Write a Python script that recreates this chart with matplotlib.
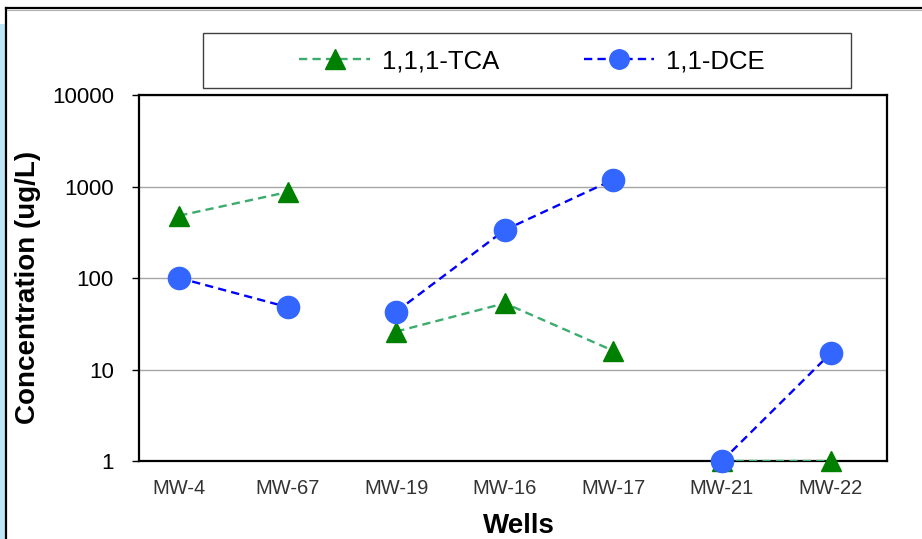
import numpy as np
import matplotlib.pyplot as plt
from matplotlib.lines import Line2D
from matplotlib.patches import Rectangle

plt.rcParams['font.family'] = ['Liberation Sans', 'DejaVu Sans']

wells = ["MW-4", "MW-67", "MW-19", "MW-16", "MW-17", "MW-21", "MW-22"]
tca = [480, 870, 26, 53, 16, 1, 1]
dce = [100, 48, 43, 335, 1190, 1, 15]
# wells are sampled in three separate transects; lines only join wells of one transect
transect = [0, 0, 1, 1, 1, 2, 2]
yticks = [1, 10, 100, 1000, 10000]
ytick_labels = ["1", "10", "100", "1000", "10000"]

W, H = 922, 539
fig = plt.figure(figsize=(W / 100, H / 100), dpi=100)
fig.patch.set_facecolor("white")


def fx(px):
    return px / W


def fy(py):
    return 1 - py / H


# outer frame and side strip
fig.add_artist(Rectangle((0, 0), fx(5.5), fy(24), transform=fig.transFigure,
                         facecolor="#bfe6f5", edgecolor="none", zorder=0))
fig.add_artist(Line2D([fx(5.5), fx(5.5)], [0, fy(8)], transform=fig.transFigure,
                      color="black", lw=1.6))
fig.add_artist(Line2D([fx(5.5), 1], [fy(8), fy(8)], transform=fig.transFigure,
                      color="black", lw=1.6))
fig.add_artist(Line2D([fx(7), 1], [fy(10), fy(10)], transform=fig.transFigure,
                      color="#b0b0b0", lw=0.8))

left, right, top, bottom = 139, 887, 95, 461
ax = fig.add_axes([fx(left), fy(bottom), fx(right - left), (bottom - top) / H])

x = np.arange(len(wells))
tca_a = np.array(tca, dtype=float)
dce_a = np.array(dce, dtype=float)
grp = np.array(transect)

tca_line = "#3cab6e"
tca_mark = "#008000"
dce_line = "#0000ff"
dce_mark = "#3366ff"
dash = (0, (3.5, 2.2))

for g in np.unique(grp):
    m = grp == g
    ax.plot(x[m], tca_a[m], color=tca_line, lw=1.7, ls=dash, zorder=3)
    ax.plot(x[m], dce_a[m], color=dce_line, lw=1.7, ls=dash, zorder=3)

ax.plot(x, tca_a, ls="none", marker="^", ms=15, color=tca_mark, mec=tca_mark,
        zorder=4, clip_on=False)
ax.plot(x, dce_a, ls="none", marker="o", ms=16, color=dce_mark, mec=dce_mark,
        zorder=5, clip_on=False)

ax.set_yscale("log")
ax.set_ylim(1, 10000)
ax.set_xlim(-0.37, 6.52)
ax.set_yticks(yticks)
ax.set_yticklabels(ytick_labels, fontsize=16)
ax.yaxis.set_minor_locator(plt.NullLocator())
ax.grid(axis="y", which="major", color="#a6a6a6", lw=1.0)
ax.set_axisbelow(True)

ax.set_xticks(x)
ax.set_xticklabels(wells, fontsize=14.5, color="#333333")
ax.tick_params(axis="x", length=0, pad=13)
ax.tick_params(axis="y", length=5, width=1.0, direction="out", pad=13)

for s in ax.spines.values():
    s.set_linewidth(1.6)
    s.set_color("black")

ax.set_xlabel("Wells", fontsize=20, fontweight="bold")
ax.set_ylabel("Concentration (ug/L)", fontsize=20, fontweight="bold")
ax.xaxis.set_label_coords(0.508, -0.178)
ax.yaxis.set_label_coords(-0.148, 0.475)
ax.xaxis.label.set_va("center")
ax.yaxis.label.set_va("center")

# legend box
fig.add_artist(Rectangle((fx(203), fy(88)), fx(851 - 203), (88 - 33) / H,
                         transform=fig.transFigure, facecolor="white",
                         edgecolor="#404040", lw=1.0, zorder=1))
handles = [
    Line2D([], [], color=tca_line, lw=1.7, ls=dash, marker="^", ms=14,
           mfc=tca_mark, mec=tca_mark),
    Line2D([], [], color=dce_line, lw=1.7, ls=dash, marker="o", ms=14,
           mfc=dce_mark, mec=dce_mark),
]
leg = fig.legend(handles, ["1,1,1-TCA", "1,1-DCE"], ncol=2, fontsize=18.5,
                 loc="center", bbox_to_anchor=(fx(532), fy(61)),
                 frameon=False, handlelength=2.75, columnspacing=3.3,
                 handletextpad=0.45, borderpad=0)
leg.set_zorder(2)

fig.savefig("out.png", dpi=100, facecolor="white")
